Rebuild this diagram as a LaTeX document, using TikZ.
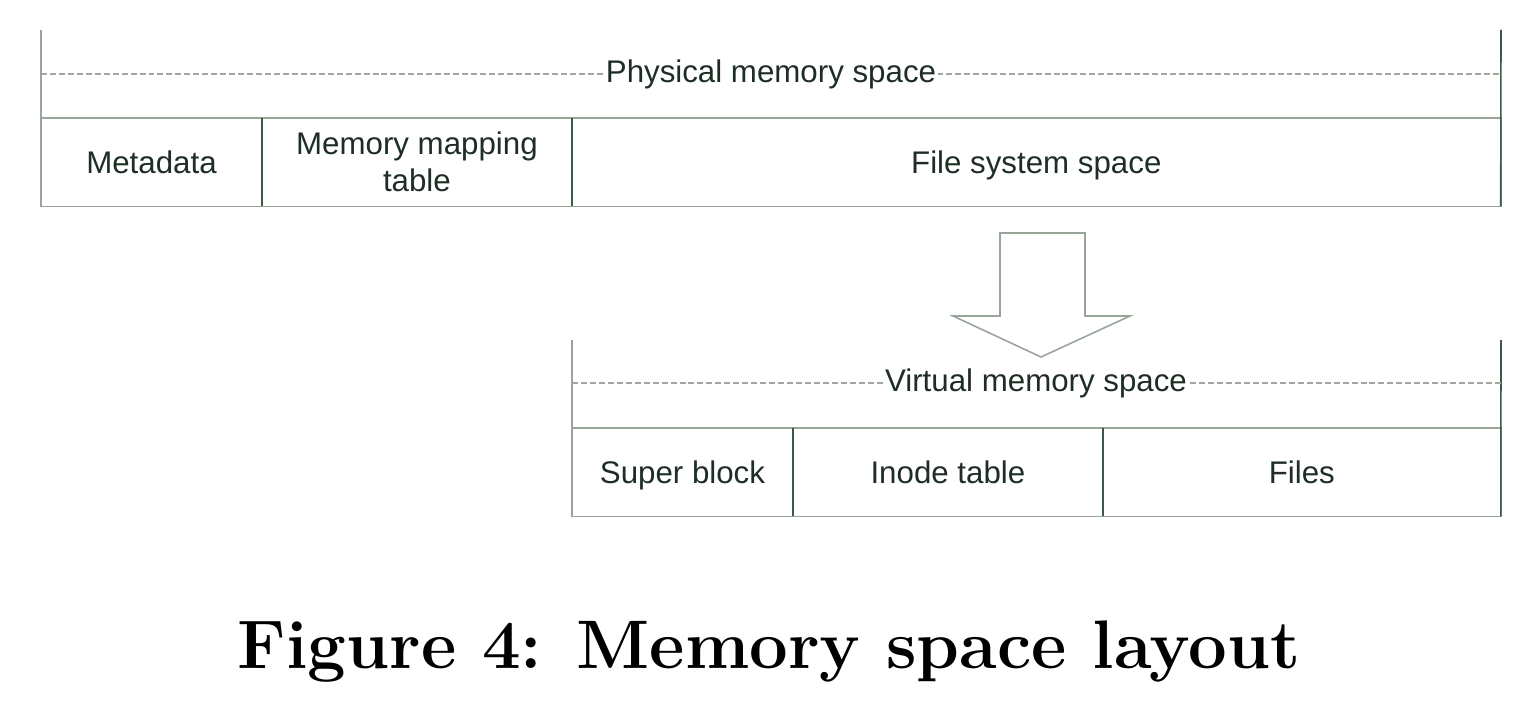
\documentclass[tikz,border=0pt]{standalone}
\usepackage{fontspec}
\newfontfamily\diagfont{Liberation Sans}
\usetikzlibrary{positioning}
\definecolor{edgegray}{HTML}{9AA59A}
\definecolor{divgreen}{HTML}{3D5A45}
\definecolor{txtgreen}{HTML}{1E2E24}
\definecolor{dashgray}{HTML}{A0A8A0}

\begin{document}
\begin{tikzpicture}[
    x=0.02cm, y=-0.02cm,
    node distance=0pt,
    cell/.style={draw=edgegray, line width=0.9pt, inner sep=0pt, outer sep=0pt, minimum height=1.77cm, align=center, text=txtgreen, font=\diagfont\fontsize{17.8}{21}\selectfont},
    oneline/.style={text height=13pt, text depth=0.2pt},
    title/.style={fill=white, inner xsep=1pt, inner ysep=2pt, text=txtgreen, font=\diagfont\fontsize{17.8}{21}\selectfont},
    frame/.style={draw=edgegray, line width=0.9pt},
    divider/.style={draw=divgreen, line width=0.9pt},
    guide/.style={draw=dashgray, line width=0.7pt, dash pattern=on 3.4pt off 1.7pt}
]
\useasboundingbox[fill=white] (0,0) rectangle (1536,706);

% Physical memory space
\node[cell, oneline, minimum width=4.42cm, anchor=north west] (meta) at (41,118) {Metadata};
\node[cell, minimum width=6.2cm, right=of meta] (mapping) {Memory mapping\\table};
\node[cell, oneline, minimum width=18.58cm, right=of mapping] (fss) {File system space};
\coordinate (ptl) at (41,30);
\coordinate (ptr) at (1501,30);
\coordinate (pdl) at (41,74);
\coordinate (pdr) at (1501,74);
\draw[frame] (ptl) -- (meta.north west);
\draw[divider] (meta.north east) -- (meta.south east);
\draw[divider] (mapping.north east) -- (mapping.south east);
\draw[divider] (ptr) -- (fss.south east);
\draw[guide] (pdl) -- (pdr);
\node[title] (phys) at (771,74) {Physical memory space};

% Block arrow
\coordinate (atop) at (1042,233);
\draw[frame, fill=white] (atop) ++(-42,0) -- ++(85,0) -- ++(0,83) -- ++(45,0)
    -- (1041,357) -- (953,316) -- (1000,316) -- cycle;

% Virtual memory space
\node[cell, oneline, minimum width=4.42cm, anchor=north west] (sblock) at (572,428) {Super block};
\node[cell, oneline, minimum width=6.2cm, right=of sblock] (inode) {Inode table};
\node[cell, oneline, minimum width=7.96cm, right=of inode] (files) {Files};
\coordinate (vtl) at (572,340);
\coordinate (vtr) at (1501,340);
\coordinate (vdl) at (572,383);
\coordinate (vdr) at (1501,383);
\draw[frame] (vtl) -- (sblock.north west);
\draw[divider] (sblock.north east) -- (sblock.south east);
\draw[divider] (inode.north east) -- (inode.south east);
\draw[divider] (vtr) -- (files.south east);
\draw[guide] (vdl) -- (vdr);
\node[title] (virt) at (1036,383) {Virtual memory space};

% Caption
\node[anchor=base, font=\fontsize{39.1}{45}\selectfont\bfseries] (caption) at (769,668) {Figure 4: Memory space layout};
\end{tikzpicture}
\end{document}
